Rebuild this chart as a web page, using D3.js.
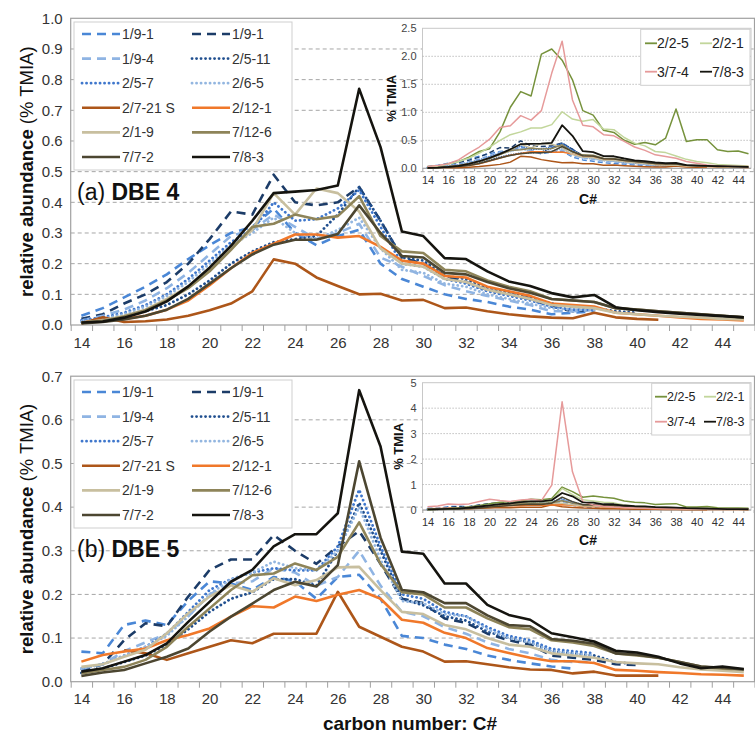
<!DOCTYPE html>
<html>
<head>
<meta charset="utf-8">
<script src="https://cdn.jsdelivr.net/npm/d3@7"></script>
<style>
  body { margin: 0; background: #fff; }
  svg { font-family: "Liberation Sans", Arial, sans-serif; }
</style>
</head>
<body>
<svg id="chart" width="755" height="734"></svg>
<script>
// carbon numbers (x categories)
const carbon = [14,15,16,17,18,19,20,21,22,23,24,25,26,27,28,29,30,31,32,33,34,35,36,37,38,39,40,41,42,43,44,45];
const xTickLabels = [14,16,18,20,22,24,26,28,30,32,34,36,38,40,42,44];
const yTicksA = [0,0.1,0.2,0.3,0.4,0.5,0.6,0.7,0.8,0.9,1.0];
const yTicksB = [0,0.1,0.2,0.3,0.4,0.5,0.6,0.7];
const insetTicksA = [0,0.5,1.0,1.5,2.0,2.5];
const insetTicksB = [0,1,2,3,4,5];

// (a) DBE 4, relative abundance (% TMIA)
const a_191b = [0.03,0.055,0.09,0.125,0.165,0.215,0.26,0.3,0.32,0.38,0.3,0.26,0.29,0.31,0.2,0.15,0.125,0.1,0.085,0.075,0.06,0.05,0.035,0.04,0.045,null,null,null,null,null,null,null];
const a_191n = [0.02,0.035,0.07,0.1,0.14,0.2,0.28,0.37,0.36,0.49,0.4,0.39,0.4,0.45,0.34,0.22,0.2,0.16,0.14,0.115,0.1,0.085,0.06,0.045,0.05,null,null,null,null,null,null,null];
const a_194 = [0.015,0.03,0.05,0.08,0.12,0.17,0.23,0.29,0.31,0.36,0.32,0.28,0.3,0.33,0.22,0.19,0.16,0.13,0.11,0.095,0.08,0.065,0.045,0.045,0.05,null,null,null,null,null,null,null];
const a_2511 = [0.012,0.018,0.03,0.045,0.065,0.1,0.145,0.2,0.24,0.27,0.28,0.29,0.36,0.45,0.34,0.22,0.21,0.16,0.15,0.12,0.105,0.09,0.07,0.06,0.055,0.045,0.04,null,null,null,null,null];
const a_257 = [0.015,0.025,0.04,0.065,0.1,0.15,0.21,0.27,0.31,0.4,0.34,0.345,0.38,0.44,0.32,0.2,0.19,0.15,0.135,0.11,0.095,0.08,0.06,0.05,0.05,null,null,null,null,null,null,null];
const a_265 = [0.012,0.02,0.035,0.06,0.095,0.14,0.2,0.26,0.3,0.35,0.3,0.28,0.31,0.35,0.25,0.18,0.17,0.135,0.125,0.1,0.085,0.07,0.055,0.05,0.048,null,null,null,null,null,null,null];
const a_2721 = [0.005,0.025,0.01,0.012,0.018,0.03,0.048,0.07,0.11,0.214,0.2,0.155,0.127,0.1,0.102,0.08,0.082,0.055,0.057,0.045,0.035,0.028,0.024,0.022,0.04,0.025,0.02,0.017,null,null,null,null];
const a_2121 = [0.008,0.015,0.02,0.03,0.05,0.08,0.13,0.185,0.235,0.265,0.295,0.295,0.285,0.29,0.255,0.21,0.2,0.16,0.155,0.125,0.11,0.095,0.07,0.065,0.06,0.04,0.035,0.03,0.025,0.02,0.018,0.015];
const a_219 = [0.008,0.015,0.03,0.05,0.085,0.125,0.18,0.25,0.31,0.43,0.36,0.445,0.43,0.37,0.25,0.2,0.19,0.15,0.14,0.115,0.1,0.085,0.065,0.06,0.055,0.04,0.035,0.03,0.027,0.024,0.02,0.018];
const a_7126 = [0.008,0.014,0.028,0.048,0.08,0.12,0.175,0.245,0.32,0.33,0.36,0.345,0.355,0.42,0.29,0.24,0.235,0.18,0.175,0.145,0.125,0.11,0.085,0.08,0.075,0.055,0.05,0.045,0.04,0.035,0.03,0.025];
const a_772 = [0.005,0.01,0.018,0.03,0.05,0.085,0.135,0.185,0.23,0.262,0.278,0.278,0.297,0.39,0.3,0.225,0.22,0.17,0.165,0.14,0.12,0.105,0.085,0.08,0.075,0.055,0.05,0.045,0.04,0.035,0.03,0.025];
const a_783 = [0.008,0.011,0.024,0.044,0.077,0.126,0.187,0.258,0.34,0.43,0.435,0.44,0.455,0.77,0.58,0.305,0.29,0.218,0.215,0.175,0.142,0.127,0.104,0.09,0.098,0.058,0.048,0.042,0.037,0.033,0.029,0.025];

// (b) DBE 5
const b_191b = [0.069,0.065,0.13,0.14,0.13,0.185,0.23,0.225,0.21,0.24,0.23,0.19,0.24,0.245,0.19,0.105,0.1,0.085,0.075,0.06,0.05,0.042,0.035,0.03,null,null,null,null,null,null,null,null];
const b_191n = [0.025,0.04,0.095,0.134,0.127,0.195,0.256,0.28,0.28,0.336,0.3,0.27,0.31,0.345,0.27,0.19,0.18,0.145,0.135,0.11,0.095,0.085,0.06,0.055,0.05,0.04,0.038,null,null,null,null,null];
const b_194 = [0.03,0.04,0.07,0.09,0.11,0.15,0.2,0.225,0.23,0.26,0.25,0.22,0.24,0.3,0.22,0.16,0.15,0.125,0.11,0.09,0.075,0.065,0.05,0.045,0.045,null,null,null,null,null,null,null];
const b_2511 = [0.02,0.03,0.045,0.06,0.085,0.12,0.16,0.19,0.205,0.235,0.235,0.22,0.3,0.41,0.3,0.19,0.175,0.15,0.14,0.115,0.1,0.09,0.07,0.065,0.06,0.045,0.04,null,null,null,null,null];
const b_257 = [0.03,0.04,0.06,0.08,0.11,0.16,0.21,0.235,0.25,0.26,0.255,0.255,0.31,0.44,0.31,0.2,0.19,0.16,0.15,0.125,0.105,0.095,0.075,0.07,0.065,null,null,null,null,null,null,null];
const b_265 = [0.03,0.04,0.06,0.08,0.105,0.15,0.2,0.235,0.25,0.275,0.26,0.255,0.3,0.4,0.28,0.185,0.18,0.155,0.15,0.12,0.1,0.09,0.07,0.065,0.06,null,null,null,null,null,null,null];
const b_2721 = [null,null,0.072,0.065,0.05,0.065,0.08,0.095,0.088,0.11,0.11,0.11,0.206,0.126,0.103,0.08,0.069,0.046,0.047,0.04,0.033,0.028,0.027,0.019,0.023,0.014,0.014,0.014,null,null,null,null];
const b_2121 = [0.046,0.061,0.069,0.076,0.095,0.107,0.122,0.149,0.173,0.17,0.195,0.185,0.199,0.21,0.19,0.142,0.135,0.112,0.1,0.077,0.066,0.055,0.047,0.047,0.043,0.027,0.025,0.022,0.02,0.017,0.016,0.014];
const b_219 = [0.034,0.04,0.057,0.073,0.111,0.157,0.195,0.221,0.206,0.237,0.221,0.233,0.262,0.263,0.21,0.16,0.155,0.13,0.12,0.1,0.085,0.08,0.065,0.06,0.055,0.045,0.042,0.04,0.033,0.028,0.025,0.022];
const b_7126 = [0.019,0.027,0.034,0.05,0.08,0.126,0.168,0.21,0.244,0.248,0.271,0.256,0.286,0.365,0.27,0.205,0.2,0.17,0.17,0.145,0.125,0.12,0.095,0.09,0.082,0.065,0.06,0.055,0.045,0.035,0.03,0.028];
const b_772 = [0.013,0.021,0.027,0.042,0.057,0.076,0.115,0.149,0.179,0.21,0.229,0.218,0.267,0.505,0.33,0.21,0.205,0.18,0.18,0.152,0.13,0.127,0.098,0.094,0.087,0.065,0.062,0.055,0.045,0.035,0.032,0.028];
const b_783 = [0.023,0.031,0.046,0.061,0.088,0.137,0.183,0.229,0.256,0.31,0.338,0.338,0.386,0.668,0.539,0.298,0.293,0.225,0.225,0.176,0.153,0.142,0.111,0.102,0.092,0.071,0.067,0.057,0.042,0.031,0.035,0.029];

// inset series (the other samples are drawn from the main arrays)
const ia_225 = [0.03,0.04,0.08,0.12,0.2,0.3,0.35,0.65,1.09,1.37,1.29,2.04,2.13,1.93,1.58,1.03,0.95,0.68,0.64,0.5,0.43,0.46,0.42,0.54,1.06,0.48,0.51,0.51,0.33,0.3,0.31,0.26];
const ia_221 = [0.02,0.04,0.07,0.12,0.18,0.27,0.38,0.5,0.6,0.65,0.72,0.72,0.78,1.01,0.88,0.84,0.87,0.7,0.69,0.55,0.45,0.4,0.3,0.28,0.22,0.16,0.12,0.1,0.07,0.06,0.05,0.04];
const ia_374 = [0.03,0.05,0.08,0.15,0.27,0.38,0.52,0.73,0.76,0.94,0.86,1.03,1.7,2.27,1.22,0.77,0.74,0.6,0.58,0.48,0.38,0.32,0.24,0.21,0.18,0.12,0.09,0.06,0.04,0.035,0.03,0.03];
const ib_225 = [0.02,0.03,0.05,0.08,0.12,0.18,0.25,0.3,0.32,0.36,0.42,0.4,0.45,0.9,0.72,0.5,0.55,0.5,0.46,0.35,0.3,0.28,0.22,0.24,0.25,0.12,0.12,0.14,0.09,0.08,0.08,0.07];
const ib_221 = [0.02,0.03,0.05,0.07,0.1,0.15,0.2,0.24,0.27,0.3,0.32,0.32,0.35,0.85,0.6,0.4,0.35,0.3,0.28,0.2,0.16,0.14,0.11,0.1,0.09,0.06,0.05,0.05,0.04,0.03,0.03,0.03];
const ib_374 = [0.13,0.16,0.24,0.22,0.24,0.33,0.42,0.37,0.33,0.39,0.42,0.37,0.98,4.25,1.5,0.33,0.2,0.15,0.12,0.1,0.08,0.07,0.06,0.05,0.05,0.04,0.04,0.04,0.03,0.03,0.03,0.03];

// line styles, in legend order
const styles = [
  {key: "s191b", label: "1/9-1", color: "#4a87d6", dash: "9,6"},
  {key: "s191n", label: "1/9-1", color: "#1c3c68", dash: "9,6"},
  {key: "s194", label: "1/9-4", color: "#8fb4e3", dash: "9,6"},
  {key: "s2511", label: "2/5-11", color: "#204f8f", dot: true},
  {key: "s257", label: "2/5-7", color: "#3f77cc", dot: true},
  {key: "s265", label: "2/6-5", color: "#93b6e0", dot: true},
  {key: "s2721", label: "2/7-21 S", color: "#ad5619"},
  {key: "s2121", label: "2/12-1", color: "#f0782a"},
  {key: "s219", label: "2/1-9", color: "#c8bf9f"},
  {key: "s7126", label: "7/12-6", color: "#8e8459"},
  {key: "s772", label: "7/7-2", color: "#4c4631"},
  {key: "s783", label: "7/8-3", color: "#15140f"}
];
const insetStyles = [
  {key: "s225", label: "2/2-5", color: "#76923c"},
  {key: "s221", label: "2/2-1", color: "#c2d69b"},
  {key: "s374", label: "3/7-4", color: "#e69a9a"},
  {key: "s783", label: "7/8-3", color: "#15140f"}
];

const dbe4 = {s191b: a_191b, s191n: a_191n, s194: a_194, s2511: a_2511, s257: a_257, s265: a_265,
  s2721: a_2721, s2121: a_2121, s219: a_219, s7126: a_7126, s772: a_772, s783: a_783};
const dbe5 = {s191b: b_191b, s191n: b_191n, s194: b_194, s2511: b_2511, s257: b_257, s265: b_265,
  s2721: b_2721, s2121: b_2121, s219: b_219, s7126: b_7126, s772: b_772, s783: b_783};

const svg = d3.select("#chart");
const x = d3.scaleLinear().domain([13.5, 45.5]).range([70.7, 754.5]);
const boundaries = carbon.map(c => c - 0.5).concat([45.5]);

function styleLine(sel, s, w, thin) {
  sel.attr("fill", "none").attr("stroke", s.color).attr("stroke-width", w)
    .attr("stroke-linejoin", "round");
  if (s.dash) sel.attr("stroke-dasharray", thin ? "5,3" : s.dash);
  if (s.dot) sel.attr("stroke-dasharray", thin ? "0.1,2.4" : "0.1,4.4").attr("stroke-linecap", "round");
}

function mainPanel(p) {
  const y = d3.scaleLinear().domain([0, p.ymax]).range([p.bottom, p.top]);
  const g = svg.append("g");

  // grid
  g.selectAll(".grid").data(p.ticks.filter(t => t > 0 && t < p.ymax)).join("line")
    .attr("x1", x(13.5)).attr("x2", x(45.5))
    .attr("y1", d => y(d)).attr("y2", d => y(d))
    .attr("stroke", "#a6a6a6").attr("stroke-dasharray", "4,3");
  g.append("rect")
    .attr("x", x(13.5)).attr("y", y(p.ymax))
    .attr("width", x(45.5) - x(13.5)).attr("height", y(0) - y(p.ymax))
    .attr("fill", "none").attr("stroke", "#a0a0a0").attr("stroke-width", 1.2);

  // y axis
  g.append("g").attr("transform", `translate(${x(13.5)},0)`)
    .call(d3.axisLeft(y).tickValues(p.ticks).tickFormat(d3.format(".1f")).tickSize(0).tickPadding(8))
    .call(a => a.select(".domain").remove())
    .call(a => a.selectAll("text").attr("font-size", 15).attr("fill", "#333"));

  // x axis marks and labels
  g.append("g").attr("transform", `translate(0,${y(0)})`)
    .call(d3.axisBottom(x).tickValues(boundaries).tickFormat("").tickSize(6))
    .call(a => a.select(".domain").remove())
    .call(a => a.selectAll("line").attr("stroke", "#a0a0a0"));
  g.append("g").attr("transform", `translate(0,${y(0)})`)
    .call(d3.axisBottom(x).tickValues(xTickLabels).tickSize(0).tickPadding(12))
    .call(a => a.select(".domain").remove())
    .call(a => a.selectAll("text").attr("font-size", 15).attr("fill", "#333"));

  // lines
  const line = d3.line().defined(v => v != null).x((v, i) => x(carbon[i])).y(v => y(v));
  styles.forEach(s => {
    g.append("path").datum(p.data[s.key]).attr("d", line)
      .call(sel => styleLine(sel, s, s.dot ? 2.8 : 2.6, false));
  });

  // legend
  const lg = g.append("g");
  lg.append("rect").attr("x", 74).attr("y", p.legendTop)
    .attr("width", 218).attr("height", 148)
    .attr("fill", "#fff").attr("stroke", "#cfcfcf");
  styles.forEach((s, i) => {
    const col = i % 2, row = Math.floor(i / 2);
    const ly = p.legendTop + 12 + row * 24.6;
    const x0 = col ? 192 : 82;
    lg.append("line").attr("x1", x0).attr("x2", x0 + 38).attr("y1", ly).attr("y2", ly)
      .call(sel => styleLine(sel, s, s.dot ? 2.8 : 2.6, false));
    lg.append("text").attr("x", x0 + 40).attr("y", ly).attr("dy", "0.36em")
      .attr("font-size", 14).attr("fill", "#333").text(s.label);
  });

  // panel tag
  const t = g.append("text").attr("x", 77).attr("y", p.tagY).attr("font-size", 23).attr("fill", "#111");
  t.append("tspan").text(p.tag + " ");
  t.append("tspan").attr("font-weight", "bold").text(p.title);

  // y title
  const yt = g.append("text")
    .attr("transform", `translate(33,${(p.top + p.bottom) / 2}) rotate(-90)`)
    .attr("text-anchor", "middle").attr("font-size", 18.5).attr("fill", "#111");
  yt.append("tspan").attr("font-weight", "bold").text("relative abundance");
  yt.append("tspan").text(" (% TMIA)");
}

function inset(p) {
  const xi = d3.scaleLinear().domain([14, 45]).range([427.5, 748.5]);
  const y = d3.scaleLinear().domain([0, p.ymax]).range([p.bottom, p.top]);
  const g = svg.append("g");
  const left = 422.5, right = 751;

  g.append("rect").attr("x", left).attr("y", p.top)
    .attr("width", right - left).attr("height", p.bottom - p.top)
    .attr("fill", "#fff").attr("stroke", "#c8c8c8");
  g.selectAll(".grid").data(p.ticks.filter(t => t > 0 && t < p.ymax)).join("line")
    .attr("x1", left).attr("x2", right)
    .attr("y1", d => y(d)).attr("y2", d => y(d))
    .attr("stroke", "#b0b0b0").attr("stroke-dasharray", "1.2,1.8");
  g.append("line").attr("x1", left).attr("x2", right).attr("y1", p.bottom).attr("y2", p.bottom)
    .attr("stroke", "#a0a0a0");

  g.append("g").attr("transform", `translate(${left},0)`)
    .call(d3.axisLeft(y).tickValues(p.ticks).tickFormat(p.fmt).tickSize(0).tickPadding(6))
    .call(a => a.select(".domain").remove())
    .call(a => a.selectAll("text").attr("font-size", 11).attr("fill", "#444"));
  g.append("g").attr("transform", `translate(0,${p.bottom})`)
    .call(d3.axisBottom(xi).tickValues(boundaries).tickFormat("").tickSize(3))
    .call(a => a.select(".domain").remove())
    .call(a => a.selectAll("line").attr("stroke", "#a0a0a0"));
  g.append("g").attr("transform", `translate(0,${p.bottom})`)
    .call(d3.axisBottom(xi).tickValues(xTickLabels).tickSize(0).tickPadding(p.xpad))
    .call(a => a.select(".domain").remove())
    .call(a => a.selectAll("text").attr("font-size", 11).attr("fill", "#333"));

  const line = d3.line().defined(v => v != null).x((v, i) => xi(carbon[i])).y(v => y(v));
  styles.filter(s => s.key !== "s783").forEach(s => {
    g.append("path").datum(p.main[s.key]).attr("d", line)
      .call(sel => styleLine(sel, s, s.dot ? 1.8 : 1.5, true));
  });
  insetStyles.forEach(s => {
    const d = s.key === "s783" ? p.main.s783 : p.extra[s.key];
    g.append("path").datum(d).attr("d", line)
      .call(sel => styleLine(sel, s, s.key === "s783" ? 1.8 : 1.5, true));
  });

  // legend
  const L = p.legend;
  g.append("rect").attr("x", L.x).attr("y", L.y).attr("width", L.w).attr("height", L.h)
    .attr("fill", "#fff").attr("stroke", "#cfcfcf");
  insetStyles.forEach((s, i) => {
    const col = i % 2, row = Math.floor(i / 2);
    const ly = L.rows[row];
    const x0 = L.cols[col];
    g.append("line").attr("x1", x0).attr("x2", x0 + 12).attr("y1", ly).attr("y2", ly)
      .attr("stroke", s.color).attr("stroke-width", 1.8);
    g.append("text").attr("x", x0 + 12).attr("y", ly).attr("dy", "0.36em")
      .attr("font-size", L.fs).attr("fill", "#222").text(s.label);
  });

  g.append("text").attr("x", 588).attr("y", p.cY).attr("text-anchor", "middle")
    .attr("font-size", 14).attr("font-weight", "bold").attr("fill", "#111").text("C#");
  g.append("text")
    .attr("transform", `translate(${p.tX},${(p.top + p.bottom) / 2}) rotate(-90)`)
    .attr("text-anchor", "middle").attr("font-size", 13).attr("font-weight", "bold")
    .attr("fill", "#111").text("% TMIA");
}

mainPanel({top: 18.3, bottom: 325, ymax: 1.0, ticks: yTicksA, data: dbe4,
  legendTop: 22, tag: "(a)", title: "DBE 4", tagY: 200});
inset({top: 28.3, bottom: 168.3, ymax: 2.5, ticks: insetTicksA, fmt: d3.format(".1f"), xpad: 8,
  main: dbe4, extra: {s225: ia_225, s221: ia_221, s374: ia_374},
  cY: 204, tX: 396,
  legend: {x: 640.7, y: 29.3, w: 109.3, h: 56, rows: [43.3, 71.7], cols: [645, 700], fs: 14}});

mainPanel({top: 376.2, bottom: 681.7, ymax: 0.7, ticks: yTicksB, data: dbe5,
  legendTop: 380, tag: "(b)", title: "DBE 5", tagY: 557});
inset({top: 382.7, bottom: 510, ymax: 5, ticks: insetTicksB, fmt: d3.format("d"), xpad: 8,
  main: dbe5, extra: {s225: ib_225, s221: ib_221, s374: ib_374},
  cY: 545, tX: 403,
  legend: {x: 651.7, y: 383.3, w: 98.3, h: 51.7, rows: [396.7, 421.7], cols: [655, 704], fs: 12.5}});

svg.append("text").attr("x", 410).attr("y", 730).attr("text-anchor", "middle")
  .attr("font-size", 19).attr("font-weight", "bold").attr("fill", "#111")
  .text("carbon number: C#");
</script>
</body>
</html>
